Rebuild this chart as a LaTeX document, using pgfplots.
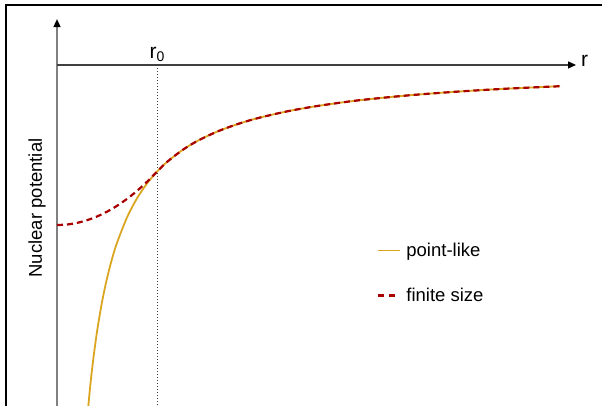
\documentclass[border=0pt]{standalone}
\usepackage{fontspec}
\setmainfont{Liberation Sans}
\usepackage{pgfplots}
\pgfplotsset{compat=1.18}
\usetikzlibrary{arrows.meta}
\definecolor{pointcol}{HTML}{DAA520}
\definecolor{finitecol}{HTML}{A80000}
\definecolor{axisgray}{HTML}{808080}
\definecolor{axisdark}{HTML}{404040}

\begin{document}
\begin{tikzpicture}
\useasboundingbox (0,0) rectangle (602pt,406pt);
\begin{axis}[
  at={(0,0)}, anchor=south west,
  scale only axis, width=602pt, height=406pt,
  xmin=-0.57, xmax=5.45, ymin=-3.196, ymax=0.609,
  hide axis, clip=true,
  legend style={at={(axis cs:3.17,-1.63)}, anchor=north west, draw=none, fill=none,
    font=\fontsize{18.5}{21}\selectfont, row sep=26pt, legend cell align=left},
]
% frame
\draw[black, line width=1.5pt] (axis cs:-0.51,-3.196) -- (axis cs:-0.51,0.5623) -- (axis cs:5.45,0.5623);
% axes
\draw[axisgray, line width=1.5pt, -{Triangle[length=8pt,width=7pt,color=black]}] (axis cs:0,-3.196) -- (axis cs:0,0.43);
\draw[axisdark, line width=1.3pt, -{Triangle[length=8pt,width=7pt,color=black]}] (axis cs:0,0) -- (axis cs:5.19,0);
\draw[axisdark, line width=0.9pt, dash pattern=on 1pt off 2pt] (axis cs:1,0) -- (axis cs:1,-3.196);
\node[anchor=south, inner sep=1pt, font=\fontsize{21}{24}\selectfont] at (axis cs:1,0.02) {r\raisebox{-0.3ex}{\fontsize{14}{16}\selectfont 0}};
\node[anchor=west, inner sep=0pt, font=\fontsize{21}{24}\selectfont] at (axis cs:5.24,0.04) {r};
\node[rotate=90, font=\fontsize{18.5}{21}\selectfont] at (axis cs:-0.20,-1.34) {Nuclear potential};

\addplot[pointcol, line width=1.8pt, smooth,
  legend image code/.code={\draw[pointcol, line width=1.8pt] (0pt,0pt) -- (22pt,0pt); \path (25pt,0pt);}]
  coordinates {
  (0.30,-3.333)(0.33,-3.030)(0.36,-2.778)(0.40,-2.500)(0.45,-2.222)(0.50,-2.000)
  (0.55,-1.818)(0.60,-1.667)(0.70,-1.429)(0.80,-1.250)(0.90,-1.111)(1.00,-1.000)
  (1.10,-0.909)(1.25,-0.800)(1.40,-0.714)(1.60,-0.625)(1.80,-0.556)(2.00,-0.500)
  (2.30,-0.435)(2.60,-0.385)(3.00,-0.333)(3.50,-0.286)(4.00,-0.250)(4.50,-0.222)(5.03,-0.199)
};
\addlegendentry{point-like}
\addplot[finitecol, line width=2.2pt, dash pattern=on 6pt off 4pt, smooth,
  legend image code/.code={\draw[finitecol, line width=2.2pt] (0pt,0pt) -- (7pt,0pt) (11pt,0pt) -- (18pt,0pt); \path (25pt,0pt);}]
  coordinates {
  (0.00,-1.500)(0.10,-1.495)(0.20,-1.480)(0.30,-1.455)(0.40,-1.420)(0.50,-1.375)
  (0.60,-1.320)(0.70,-1.255)(0.80,-1.180)(0.90,-1.095)(1.00,-1.000)
  (1.10,-0.909)(1.25,-0.800)(1.40,-0.714)(1.60,-0.625)(1.80,-0.556)(2.00,-0.500)
  (2.30,-0.435)(2.60,-0.385)(3.00,-0.333)(3.50,-0.286)(4.00,-0.250)(4.50,-0.222)(5.03,-0.199)
};
\addlegendentry{finite size}
\end{axis}
\end{tikzpicture}
\end{document}
